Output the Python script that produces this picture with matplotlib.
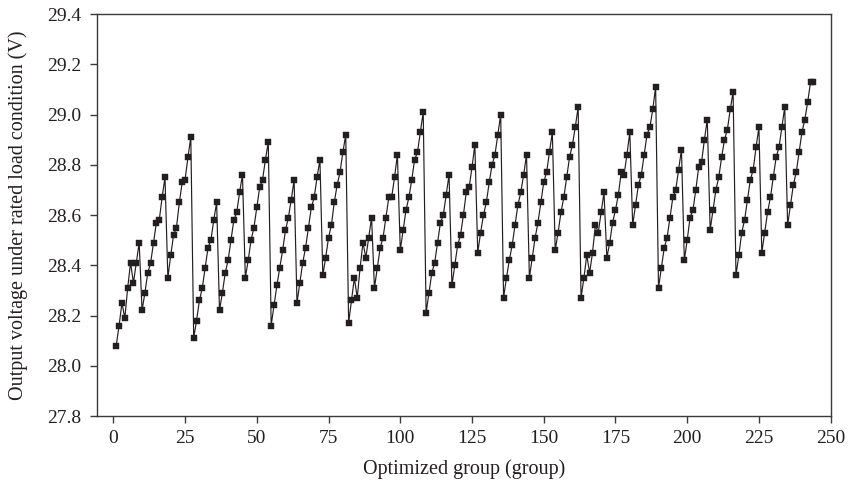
import matplotlib
matplotlib.use("Agg")
import matplotlib.pyplot as plt
import numpy as np

# Output voltage of each optimized group (groups 1..244)
voltage = [
    28.08, 28.16, 28.25, 28.19, 28.31, 28.41, 28.33, 28.41, 28.49,
    28.22, 28.29, 28.37, 28.41, 28.49, 28.57, 28.58, 28.67, 28.75,
    28.35, 28.44, 28.52, 28.55, 28.65, 28.73, 28.74, 28.83, 28.91,
    28.11, 28.18, 28.26, 28.31, 28.39, 28.47, 28.50, 28.58, 28.65,
    28.22, 28.29, 28.37, 28.42, 28.50, 28.58, 28.61, 28.69, 28.76,
    28.35, 28.42, 28.50, 28.55, 28.63, 28.71, 28.74, 28.82, 28.89,
    28.16, 28.24, 28.32, 28.39, 28.46, 28.54, 28.59, 28.66, 28.74,
    28.25, 28.33, 28.41, 28.47, 28.55, 28.63, 28.67, 28.75, 28.82,
    28.36, 28.43, 28.51, 28.56, 28.65, 28.72, 28.77, 28.85, 28.92,
    28.17, 28.26, 28.35, 28.27, 28.39, 28.49, 28.43, 28.51, 28.59,
    28.31, 28.39, 28.47, 28.51, 28.59, 28.67, 28.67, 28.75, 28.84,
    28.46, 28.54, 28.62, 28.67, 28.74, 28.82, 28.85, 28.93, 29.01,
    28.21, 28.29, 28.37, 28.41, 28.49, 28.57, 28.60, 28.68, 28.76,
    28.32, 28.40, 28.48, 28.52, 28.60, 28.69, 28.71, 28.79, 28.88,
    28.45, 28.53, 28.60, 28.65, 28.73, 28.80, 28.84, 28.92, 29.00,
    28.27, 28.35, 28.42, 28.48, 28.56, 28.64, 28.69, 28.76, 28.84,
    28.35, 28.43, 28.51, 28.57, 28.65, 28.73, 28.77, 28.85, 28.93,
    28.46, 28.53, 28.61, 28.67, 28.75, 28.83, 28.88, 28.95, 29.03,
    28.27, 28.35, 28.44, 28.37, 28.45, 28.56, 28.53, 28.61, 28.69,
    28.43, 28.49, 28.57, 28.62, 28.68, 28.77, 28.76, 28.84, 28.93,
    28.56, 28.64, 28.72, 28.76, 28.84, 28.92, 28.95, 29.02, 29.11,
    28.31, 28.39, 28.47, 28.51, 28.59, 28.67, 28.70, 28.78, 28.86,
    28.42, 28.50, 28.59, 28.62, 28.70, 28.79, 28.81, 28.90, 28.98,
    28.54, 28.62, 28.70, 28.75, 28.83, 28.90, 28.94, 29.02, 29.09,
    28.36, 28.44, 28.53, 28.58, 28.66, 28.74, 28.78, 28.87, 28.95,
    28.45, 28.53, 28.61, 28.67, 28.75, 28.83, 28.87, 28.95, 29.03,
    28.56, 28.64, 28.72, 28.77, 28.85, 28.93, 28.98, 29.05, 29.13,
    29.13,
]
groups = np.arange(1, len(voltage) + 1)

x_ticks = [0, 25, 50, 75, 100, 125, 150, 175, 200, 225, 250]
y_ticks = [27.8, 28.0, 28.2, 28.4, 28.6, 28.8, 29.0, 29.2, 29.4]

plt.rcParams["font.family"] = ["Liberation Serif", "DejaVu Serif"]

fig = plt.figure(figsize=(8.49, 4.90), dpi=100)
ax = fig.add_axes([0.1139, 0.151, 0.8645, 0.8204])

ax.plot(groups, voltage, color="#231f20", linewidth=0.85,
        marker="s", markersize=4.5, markerfacecolor="#231f20",
        markeredgecolor="#231f20", markeredgewidth=0.3)

ax.set_xlim(-5.8, 250)
ax.set_ylim(27.8, 29.4)
ax.set_xticks(x_ticks)
ax.set_yticks(y_ticks)
ax.set_yticklabels([f"{v:.1f}" for v in y_ticks])

for side in ["left", "bottom", "right", "top"]:
    ax.spines[side].set_linewidth(1.0)
    ax.spines[side].set_color("#3a3a3a")

ax.tick_params(axis="both", direction="out", length=5, width=1.0,
               color="#3a3a3a", labelsize=14, labelcolor="#231f20")
ax.tick_params(axis="y", pad=6)
ax.tick_params(axis="x", pad=5)

ax.set_xlabel("Optimized group (group)", fontsize=14.5, color="#231f20", labelpad=9)
ax.set_ylabel("Output voltage under rated load condition (V)", fontsize=14.5,
              color="#231f20", labelpad=14)

fig.savefig("out.png", dpi=100)
